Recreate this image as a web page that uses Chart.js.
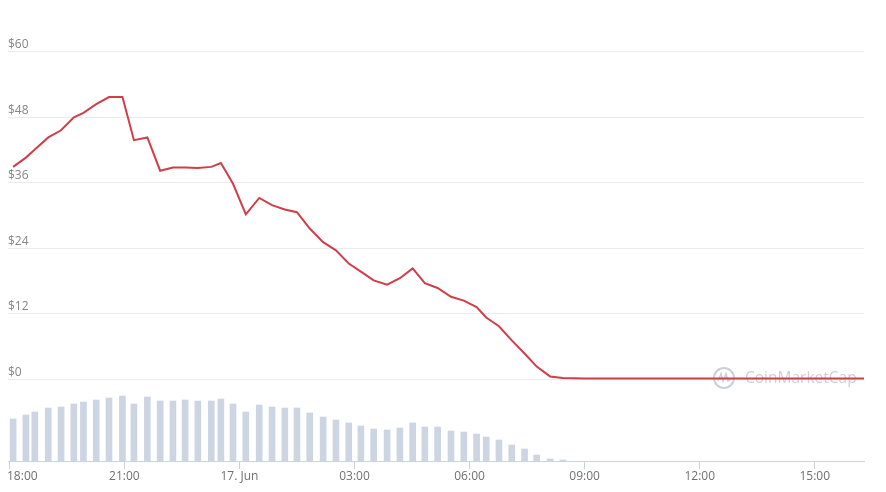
<!DOCTYPE html>
<html>
<head>
<meta charset="utf-8">
<script src="https://cdn.jsdelivr.net/npm/chart.js@4.4.1/dist/chart.umd.min.js"></script>
<style>
  html, body { margin: 0; padding: 0; background: #fff; }
  canvas { display: block; }
</style>
</head>
<body>
<canvas id="priceChart" width="886" height="492"></canvas>
<script>
// orari dei punti (16 giugno 18:00 -> 17 giugno)
const times = [
  "18:06", "18:26", "18:40", "19:01", "19:21", "19:41", "19:56", "20:16", "20:36", "20:57",
  "21:15", "21:36", "21:56", "22:16", "22:35", "22:55", "23:16", "23:31", "23:50", "00:10",
  "00:31", "00:51", "01:11", "01:30", "01:50", "02:11", "02:31", "02:51", "03:10", "03:30",
  "03:51", "04:11", "04:31", "04:50", "05:10", "05:31", "05:51", "06:11", "06:26", "06:46",
  "07:06", "07:26", "07:45", "08:06", "08:26", "09:00", "12:00", "15:00", "16:17"
];
// prezzo in $
const prices = [
  38.9, 40.6, 42.1, 44.3, 45.6, 48.0, 48.8, 50.4, 51.7, 51.7,
  43.8, 44.3, 38.2, 38.8, 38.8, 38.7, 38.9, 39.6, 35.8, 30.2,
  33.2, 31.9, 31.1, 30.6, 27.6, 25.1, 23.6, 21.2, 19.7, 18.1,
  17.3, 18.5, 20.3, 17.6, 16.7, 15.1, 14.4, 13.2, 11.3, 9.7,
  7.1, 4.7, 2.3, 0.5, 0.2, 0.1, 0.1, 0.1, 0.1
];
// volume (M$), solo per i primi punti
const volumes = [
  4.2, 4.6, 4.9, 5.3, 5.4, 5.7, 5.9, 6.1, 6.3, 6.5,
  5.7, 6.4, 6.0, 6.0, 6.1, 6.0, 6.0, 6.2, 5.7, 4.9,
  5.6, 5.4, 5.3, 5.3, 4.8, 4.4, 4.1, 3.8, 3.5, 3.2,
  3.1, 3.3, 3.8, 3.4, 3.4, 3.0, 2.9, 2.7, 2.4, 2.1,
  1.6, 1.2, 0.6, 0.2, 0.1
];
const xTickTimes = ["18:00", "21:00", "00:00", "03:00", "06:00", "09:00", "12:00", "15:00"];
const xTickLabels = ["18:00", "21:00", "17. Jun", "03:00", "06:00", "09:00", "12:00", "15:00"];
const yTicks = [0, 12, 24, 36, 48, 60];

// minuti dalle 18:00
function toMinutes(t) {
  const [h, m] = t.split(":").map(Number);
  let v = h * 60 + m - 1080;
  if (v < 0) v += 1440;
  return v;
}

const pricePoints = times.map((t, i) => ({ x: toMinutes(t), y: prices[i] }));
const volumePoints = volumes.map((v, i) => ({ x: toMinutes(times[i]), y: v }));

// etichette asse x (la prima non deve uscire dal canvas)
const xLabelsPlugin = {
  id: "xLabels",
  afterDraw(chart) {
    const sc = chart.scales.x;
    const ctx = chart.ctx;
    ctx.save();
    ctx.font = '12px "Open Sans"';
    ctx.fillStyle = "#707070";
    ctx.textAlign = "center";
    ctx.textBaseline = "middle";
    xTickTimes.forEach((t, i) => {
      const w = ctx.measureText(xTickLabels[i]).width;
      let px = sc.getPixelForValue(toMinutes(t));
      px = Math.max(px, 7 + w / 2);
      ctx.fillText(xTickLabels[i], px, sc.bottom + 8);
    });
    ctx.restore();
  }
};

// logo CoinMarketCap
const watermarkPlugin = {
  id: "watermark",
  beforeDatasetsDraw(chart) {
    const ctx = chart.ctx;
    const cx = 724, cy = 378;
    ctx.save();
    ctx.strokeStyle = "#cbd0d8";
    ctx.lineWidth = 2;
    ctx.beginPath();
    ctx.arc(cx, cy, 10, 0, Math.PI * 2);
    ctx.stroke();
    ctx.lineWidth = 1.6;
    ctx.beginPath();
    ctx.moveTo(cx - 6, cy + 3);
    ctx.lineTo(cx - 3, cy - 4);
    ctx.lineTo(cx - 1, cy + 3);
    ctx.lineTo(cx + 2, cy - 4);
    ctx.lineTo(cx + 4, cy + 3);
    ctx.lineTo(cx + 7, cy + 1);
    ctx.stroke();
    ctx.font = '15.5px "Open Sans"';
    ctx.fillStyle = "#cbd0d8";
    ctx.textBaseline = "middle";
    ctx.fillText("CoinMarketCap", 745, cy + 1);
    ctx.restore();
  }
};

new Chart(document.getElementById("priceChart"), {
  type: "line",
  data: {
    datasets: [
      {
        type: "line",
        data: pricePoints,
        borderColor: "#d03e49",
        borderWidth: 2,
        pointRadius: 0,
        tension: 0,
        fill: false,
        yAxisID: "y",
        order: 1,
      },
      {
        type: "bar",
        data: volumePoints,
        backgroundColor: "#cdd4e2",
        barThickness: 6,
        yAxisID: "yVol",
        order: 2,
      },
    ],
  },
  plugins: [xLabelsPlugin, watermarkPlugin],
  options: {
    responsive: false,
    devicePixelRatio: 1,
    animation: false,
    layout: { padding: { left: 8, right: 22, top: 19, bottom: 23 } },
    plugins: {
      legend: { display: false },
      tooltip: { enabled: false },
    },
    scales: {
      x: {
        type: "linear",
        min: -2,
        max: 1337,
        offset: false,
        afterBuildTicks: (scale) => {
          scale.ticks = xTickTimes.map((t) => ({ value: toMinutes(t) }));
        },
        ticks: { display: false },
        grid: {
          drawOnChartArea: false,
          drawTicks: true,
          tickLength: 8,
          color: "#ccd3df",
          offset: false,
        },
        border: { display: true, color: "#ccd3df" },
      },
      y: {
        position: "left",
        min: -15,
        max: 66,
        afterBuildTicks: (scale) => {
          scale.ticks = yTicks.map((v) => ({ value: v }));
        },
        ticks: {
          mirror: true,
          padding: 0,
          labelOffset: -7,
          color: "#858585",
          font: { family: "Open Sans", size: 12 },
          callback: (value) => `$${value}`,
        },
        grid: { color: "#ebebeb", drawTicks: false },
        border: { display: false },
      },
      yVol: {
        display: false,
        min: 0,
        max: 44.2,
      },
    },
  },
});
</script>
</body>
</html>
